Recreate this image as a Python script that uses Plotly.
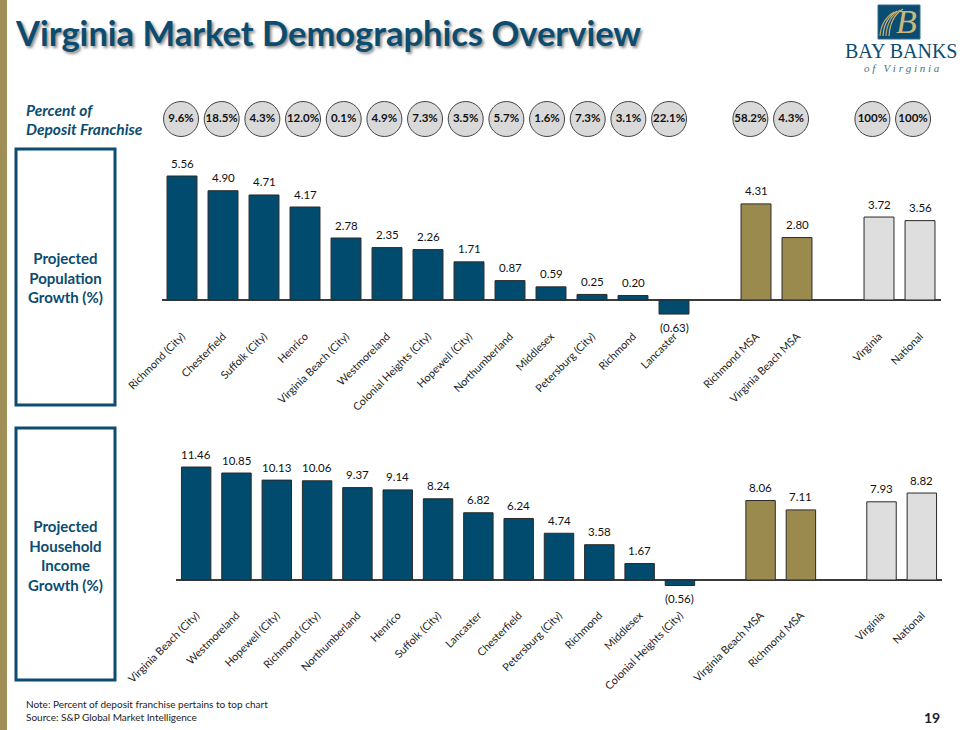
import plotly.graph_objects as go

# ---- data ----
pop_counties = ["Richmond (City)", "Chesterfield", "Suffolk (City)", "Henrico", "Virginia Beach (City)",
                "Westmoreland", "Colonial Heights (City)", "Hopewell (City)", "Northumberland", "Middlesex",
                "Petersburg (City)", "Richmond", "Lancaster"]
pop_county_values = [5.56, 4.90, 4.71, 4.17, 2.78, 2.35, 2.26, 1.71, 0.87, 0.59, 0.25, 0.20, -0.63]
pop_msas = ["Richmond MSA", "Virginia Beach MSA"]
pop_msa_values = [4.31, 2.80]
pop_refs = ["Virginia", "National"]
pop_ref_values = [3.72, 3.56]

inc_counties = ["Virginia Beach (City)", "Westmoreland", "Hopewell (City)", "Richmond (City)", "Northumberland",
                "Henrico", "Suffolk (City)", "Lancaster", "Chesterfield", "Petersburg (City)", "Richmond",
                "Middlesex", "Colonial Heights (City)"]
inc_county_values = [11.46, 10.85, 10.13, 10.06, 9.37, 9.14, 8.24, 6.82, 6.24, 4.74, 3.58, 1.67, -0.56]
inc_msas = ["Virginia Beach MSA", "Richmond MSA"]
inc_msa_values = [8.06, 7.11]
inc_refs = ["Virginia", "National"]
inc_ref_values = [7.93, 8.82]

franchise_share = ["9.6%", "18.5%", "4.3%", "12.0%", "0.1%", "4.9%", "7.3%", "3.5%", "5.7%", "1.6%", "7.3%",
                   "3.1%", "22.1%", "58.2%", "4.3%", "100%", "100%"]

# ---- style ----
W, H = 960, 730
BLUE, GOLD, GREY = "#004B6E", "#9B8A4E", "#DEDEDF"
NAVY = "#0B4C70"
FONT = "Lato"
X = lambda p: p / W
Y = lambda p: 1 - p / H


def fmt(v):
    return f"({abs(v):.2f})" if v < 0 else f"{v:.2f}"


fig = go.Figure()
value_labels = []


def add_panel(axis, cats, vals, msas, msa_vals, refs, ref_vals):
    for names, values, color in ((cats, vals, BLUE), (msas, msa_vals, GOLD), (refs, ref_vals, GREY)):
        fig.add_trace(go.Bar(
            x=names, y=values, xaxis="x" + axis, yaxis="y" + axis,
            marker=dict(color=color, line=dict(color="#2A2A2A", width=1)),
            cliponaxis=False, showlegend=False,
        ))
        for name, v in zip(names, values):
            value_labels.append(dict(
                x=name, y=v, xref="x" + axis, yref="y" + axis, text=fmt(v), showarrow=False,
                yanchor="middle", yshift=13 if v >= 0 else -13,
                font=dict(family=FONT, size=11.5, color="#111111"),
            ))


add_panel("", pop_counties, pop_county_values, pop_msas, pop_msa_values, pop_refs, pop_ref_values)
add_panel("2", inc_counties, inc_county_values, inc_msas, inc_msa_values, inc_refs, inc_ref_values)

share_cats = pop_counties + pop_msas + pop_refs
fig.add_trace(go.Scatter(
    x=share_cats, y=["Percent of Deposit Franchise"] * len(share_cats), xaxis="x3", yaxis="y3",
    mode="markers+text", text=franchise_share, textposition="middle center", cliponaxis=False,
    textfont=dict(family=FONT, size=11.5, color="#111111", weight=700),
    marker=dict(size=35, color="#D9D9D9", line=dict(color="#444444", width=1)),
    showlegend=False,
))


def xaxis(left, right, cats, msas, refs):
    order = cats + [" "] + msas + ["  "] + refs
    return dict(domain=[X(left), X(right)], type="category", categoryorder="array", categoryarray=order,
                range=[-0.5, 18.5], tickangle=-45, showgrid=False, zeroline=False, showline=False, ticks="",
                tickfont=dict(family=FONT, size=10.8, color="#222222"),
                tickmode="array", tickvals=order, ticktext=order, automargin=False)


def yaxis(top, bottom, base, scale):
    return dict(domain=[Y(bottom), Y(top)], range=[(base - bottom) / scale, (base - top) / scale],
                showgrid=False, showticklabels=False, ticks="", showline=False, zeroline=True,
                zerolinecolor="#3A3A3A", zerolinewidth=1.5, automargin=False)


def swoosh(x0, top, color):
    return dict(type="path", xref="paper", yref="paper",
                path=f"M {X(x0)} {Y(36)} Q {X(x0 + 1)} {Y(top + 8)} {X(x0 + 14)} {Y(top)}",
                line=dict(color=color, width=1.2))


shapes = [
    dict(type="rect", xref="paper", yref="paper", x0=0, x1=X(7), y0=0, y1=1, fillcolor="#9F8E55", line_width=0),
    dict(type="rect", xref="paper", yref="paper", x0=X(16), x1=X(115), y0=Y(405), y1=Y(149),
         line=dict(color=NAVY, width=3)),
    dict(type="rect", xref="paper", yref="paper", x0=X(16), x1=X(115), y0=Y(680), y1=Y(428),
         line=dict(color=NAVY, width=3)),
    # logo emblem
    dict(type="rect", xref="paper", yref="paper", x0=X(878), x1=X(920), y0=Y(39), y1=Y(5),
         fillcolor=NAVY, line=dict(color="#2F6C8F", width=1)),
    swoosh(880, 12, "#B7A66E"), swoosh(883, 11, "#C9B77E"), swoosh(886, 10, "#B7A66E"), swoosh(889, 9, "#C9B77E"),
]


def note(text, x, y, size, color="#222222", bold=False, italic=False, anchor="left", family=FONT, **kw):
    return dict(text=text, xref="paper", yref="paper", x=X(x), y=Y(y), xanchor=anchor, yanchor="middle",
                showarrow=False, align=anchor,
                font=dict(family=family, size=size, color=color, weight=700 if bold else 400,
                          style="italic" if italic else "normal", **kw))


annotations = value_labels + [
    note("Virginia Market Demographics Overview", 13, 32, 34.5, color=NAVY, bold=True,
         shadow="2px 2px 3px #8A8A8A"),
    note("Percent of", 24, 110, 15.5, color=NAVY, bold=True, italic=True),
    note("Deposit Franchise", 24, 129, 15.5, color=NAVY, bold=True, italic=True),
    note("Projected<br>Population<br>Growth (%)", 65.5, 277, 15, color=NAVY, bold=True, anchor="center"),
    note("Projected<br>Household<br>Income<br>Growth (%)", 65.5, 555, 15, color=NAVY, bold=True, anchor="center"),
    note("Note: Percent of deposit franchise pertains to top chart", 24, 704, 10),
    note("Source: S&amp;P Global Market Intelligence", 24, 717, 10),
    note("19", 932, 717, 14, color="#222222", bold=True, anchor="center"),
    note("B", 906, 22, 34, color="#C9B77E", italic=True, anchor="center", family="Liberation Serif"),
    note("BAY BANKS", 901, 51, 20, color=NAVY, anchor="center", family="Liberation Serif"),
    note("o f&#160;&#160;&#160;V i r g i n i a", 902, 68, 11, color="#4A6F86", italic=True, anchor="center",
         family="Liberation Serif"),
]

fig.update_layout(
    width=W, height=H, margin=dict(l=0, r=0, t=0, b=0), paper_bgcolor="white", plot_bgcolor="rgba(0,0,0,0)",
    barmode="overlay", bargap=0.27, autosize=False, showlegend=False,
    font=dict(family=FONT),
    xaxis=dict(xaxis(161.5, 940.5, pop_counties, pop_msas, pop_refs), anchor="y"),
    yaxis=dict(yaxis(150, 327, 300, 22.3), anchor="x"),
    xaxis2=dict(xaxis(176, 942, inc_counties, inc_msas, inc_refs), anchor="y2"),
    yaxis2=dict(yaxis(445, 606, 580, 9.86), anchor="x2"),
    xaxis3=dict(domain=[X(160.7), X(933.4)], type="category", categoryorder="array",
                categoryarray=pop_counties + [" "] + pop_msas + ["  "] + pop_refs, range=[-0.5, 18.5],
                visible=False, anchor="y3"),
    yaxis3=dict(domain=[Y(138), Y(100)], type="category", visible=False, anchor="x3"),
    shapes=shapes, annotations=annotations,
)

fig.write_html("out.html", config={"displayModeBar": False}, post_script="document.body.style.margin='0';")
